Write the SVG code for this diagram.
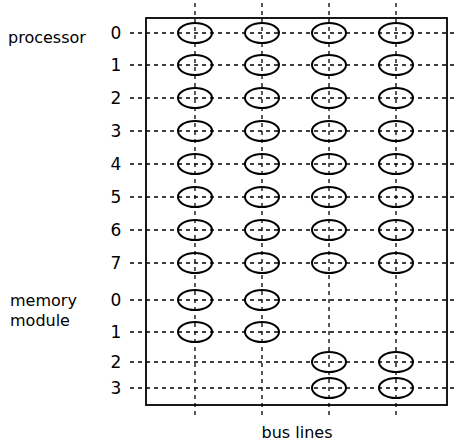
<svg xmlns="http://www.w3.org/2000/svg" width="461" height="444" viewBox="0 0 461 444">
<style>
.t{font-family:"DejaVu Sans","Liberation Sans",sans-serif;font-size:16px;fill:#000}
.n{text-anchor:middle;font-size:17px}
.d{stroke:#000;stroke-width:1.3;stroke-dasharray:4 4;fill:none}
.e{fill:none;stroke:#000;stroke-width:2}
</style>
<rect width="461" height="444" fill="#fff"/>
<g id="frame"><rect x="146" y="18" width="301" height="387" fill="none" stroke="#000" stroke-width="1.8"/></g>
<g id="connectors">
<path class="d" d="M195 3V416M262 3V416M329 3V416M396 3V416"/>
<path class="d" d="M130 33H458M130 65H458M130 98H458M130 131H458M130 164H458M130 197H458M130 230H458M130 263H458M130 300H458M130 332H458M130 362H458M130 388H458"/>
</g>
<g id="labels">
<text class="t" x="8" y="43">processor</text>
<text class="t" x="10" y="306">memory</text>
<text class="t" x="10" y="326">module</text>
<text class="t" x="297" y="438" text-anchor="middle">bus lines</text>
</g>
<g id="row-labels" class="t n">
<text x="116" y="39">0</text>
<text x="116" y="71">1</text>
<text x="116" y="104">2</text>
<text x="116" y="137">3</text>
<text x="116" y="170">4</text>
<text x="116" y="203">5</text>
<text x="116" y="236">6</text>
<text x="116" y="269">7</text>
<text x="116" y="306">0</text>
<text x="116" y="338">1</text>
<text x="116" y="368">2</text>
<text x="116" y="394">3</text>
</g>
<g id="p0"><ellipse class="e" cx="195" cy="33" rx="17" ry="10"/><ellipse class="e" cx="262" cy="33" rx="17" ry="10"/><ellipse class="e" cx="329" cy="33" rx="17" ry="10"/><ellipse class="e" cx="396" cy="33" rx="17" ry="10"/></g>
<g id="p1"><ellipse class="e" cx="195" cy="65" rx="17" ry="10"/><ellipse class="e" cx="262" cy="65" rx="17" ry="10"/><ellipse class="e" cx="329" cy="65" rx="17" ry="10"/><ellipse class="e" cx="396" cy="65" rx="17" ry="10"/></g>
<g id="p2"><ellipse class="e" cx="195" cy="98" rx="17" ry="10"/><ellipse class="e" cx="262" cy="98" rx="17" ry="10"/><ellipse class="e" cx="329" cy="98" rx="17" ry="10"/><ellipse class="e" cx="396" cy="98" rx="17" ry="10"/></g>
<g id="p3"><ellipse class="e" cx="195" cy="131" rx="17" ry="10"/><ellipse class="e" cx="262" cy="131" rx="17" ry="10"/><ellipse class="e" cx="329" cy="131" rx="17" ry="10"/><ellipse class="e" cx="396" cy="131" rx="17" ry="10"/></g>
<g id="p4"><ellipse class="e" cx="195" cy="164" rx="17" ry="10"/><ellipse class="e" cx="262" cy="164" rx="17" ry="10"/><ellipse class="e" cx="329" cy="164" rx="17" ry="10"/><ellipse class="e" cx="396" cy="164" rx="17" ry="10"/></g>
<g id="p5"><ellipse class="e" cx="195" cy="197" rx="17" ry="10"/><ellipse class="e" cx="262" cy="197" rx="17" ry="10"/><ellipse class="e" cx="329" cy="197" rx="17" ry="10"/><ellipse class="e" cx="396" cy="197" rx="17" ry="10"/></g>
<g id="p6"><ellipse class="e" cx="195" cy="230" rx="17" ry="10"/><ellipse class="e" cx="262" cy="230" rx="17" ry="10"/><ellipse class="e" cx="329" cy="230" rx="17" ry="10"/><ellipse class="e" cx="396" cy="230" rx="17" ry="10"/></g>
<g id="p7"><ellipse class="e" cx="195" cy="263" rx="17" ry="10"/><ellipse class="e" cx="262" cy="263" rx="17" ry="10"/><ellipse class="e" cx="329" cy="263" rx="17" ry="10"/><ellipse class="e" cx="396" cy="263" rx="17" ry="10"/></g>
<g id="m0"><ellipse class="e" cx="195" cy="300" rx="17" ry="10"/><ellipse class="e" cx="262" cy="300" rx="17" ry="10"/></g>
<g id="m1"><ellipse class="e" cx="195" cy="332" rx="17" ry="10"/><ellipse class="e" cx="262" cy="332" rx="17" ry="10"/></g>
<g id="m2"><ellipse class="e" cx="329" cy="362" rx="17" ry="10"/><ellipse class="e" cx="396" cy="362" rx="17" ry="10"/></g>
<g id="m3"><ellipse class="e" cx="329" cy="388" rx="17" ry="10"/><ellipse class="e" cx="396" cy="388" rx="17" ry="10"/></g>
</svg>
